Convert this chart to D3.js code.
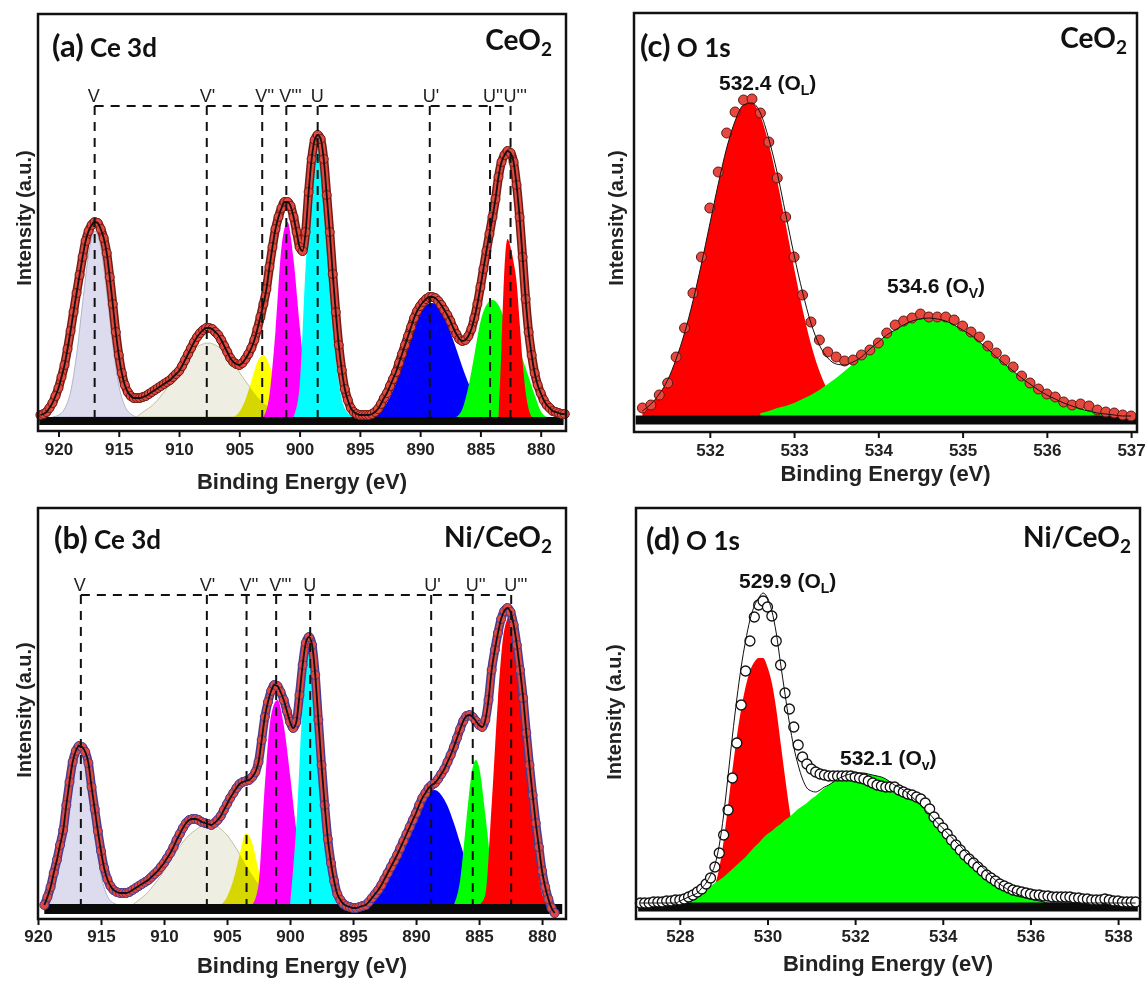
<!DOCTYPE html>
<html>
<head>
<meta charset="utf-8">
<script src="https://cdnjs.cloudflare.com/ajax/libs/d3/7.8.5/d3.min.js"></script>
<style>
  body { margin: 0; background: #fff; }
</style>
</head>
<body>
<script>
// ---------------- data ----------------
// Ce 3d peak names (shared by a and b)
var ceLabels = ["V", "V'", "V''", "V'''", "U", "U'", "U''", "U'''"];
var ceTicks = [920, 915, 910, 905, 900, 895, 890, 885, 880];

// (a) CeO2, Ce 3d : measured points every 0.25 eV starting at 921.5 eV
var ceA_start = 921.5;
var ceA_counts = [
  2, 3, 5, 9, 14, 21, 29, 40, 52, 68,
  86, 105, 124, 142, 160, 176, 186, 192, 195, 194,
  188, 179, 164, 140, 113, 85, 62, 44, 32, 25,
  21, 19, 19, 19, 20, 21, 23, 25, 27, 29,
  31, 33, 35, 37, 40, 43, 46, 51, 57, 63,
  69, 75, 80, 84, 87, 89, 89, 88, 85, 82,
  77, 71, 65, 59, 55, 53, 52, 54, 58, 63,
  69, 77, 88, 100, 113, 128, 150, 170, 188, 200,
  209, 215, 215, 211, 200, 185, 170, 166, 185, 225,
  258, 277, 282, 278, 258, 222, 185, 143, 105, 72,
  47, 28, 17, 9, 5, 3, 2, 2, 2, 2,
  3, 5, 8, 13, 19, 24, 31, 38, 45, 54,
  63, 72, 81, 90, 99, 106, 111, 115, 118, 120,
  120, 119, 116, 112, 107, 102, 96, 89, 83, 78,
  76, 77, 81, 88, 99, 113, 130, 148, 166, 183,
  200, 218, 240, 255, 262, 266, 264, 255, 232, 200,
  160, 118, 85, 62, 44, 32, 24, 17, 12, 9,
  6, 5, 4, 3, 3
];
var ceA_peakEnergy = [917.0, 907.7, 903.1, 901.1, 898.5, 889.2, 884.2, 882.5];
var ceA_V    = [[920.5,0],[920,2],[919.5,8],[919,25],[918.5,62],[918,114],[917.5,163],[917,186],[916.5,170],[916,125],[915.5,72],[915,32],[914.5,11],[914,3],[913.5,0]];
var ceA_V1   = [[913.5,0],[913,5],[912.5,9],[912,14],[911.5,21],[911,29],[910.5,38],[910,47],[909.5,56],[909,64],[908.5,70],[908,73],[907.5,74],[907,72],[906.5,68],[906,62],[905.5,54],[905,45],[904.5,36],[904,28],[903.5,20],[903,14],[902.5,9],[902,5],[901.5,3],[901,0]];
var ceA_V2   = [[905.5,0],[905,5],[904.5,17],[904,36],[903.5,55],[903,62],[902.5,52],[902,33],[901.5,15],[901,5],[900.5,0]];
var ceA_V3   = [[903,0],[902.5,22],[902,86],[901.5,170],[901,195],[900.5,157],[900,92],[899.5,37],[899,11],[898.5,0]];
var ceA_U    = [[900.5,0],[900,30],[899.5,150],[899,240],[898.5,276],[898,230],[897.5,140],[897,60],[896.5,18],[896,4],[895.5,0]];
var ceA_U1   = [[894,0],[893.5,4],[893,10],[892.5,20],[892,34],[891.5,51],[891,70],[890.5,88],[890,103],[889.5,112],[889,114],[888.5,110],[888,100],[887.5,85],[887,68],[886.5,50],[886,34],[885.5,21],[885,11],[884.5,5],[884,0]];
var ceA_U2   = [[887,0],[886.5,8],[886,30],[885.5,62],[885,95],[884.5,112],[884,117],[883.5,112],[883,98],[882.5,86],[882,75],[881.5,58],[881,40],[880.5,22],[880,6],[879.5,0]];
var ceA_U3   = [[883.5,0],[883.25,70],[883,150],[882.75,178],[882.5,170],[882.25,155],[882,135],[881.75,95],[881.5,55],[881.25,25],[881,8],[880.75,0]];

// (b) Ni/CeO2, Ce 3d : measured points every 0.25 eV starting at 919.5 eV
var ceB_start = 919.5;
var ceB_counts = [
  0, 8, 18, 32, 45, 60, 75, 100, 123, 143,
  154, 159, 158, 153, 142, 118, 96, 74, 54, 37,
  26, 19, 15, 13, 12, 12, 12, 13, 15, 17,
  19, 21, 23, 25, 28, 31, 34, 38, 42, 47,
  52, 58, 65, 71, 77, 82, 85, 86, 86, 85,
  83, 82, 81, 80, 82, 85, 89, 95, 101, 107,
  112, 117, 121, 123, 124, 125, 128, 133, 143, 165,
  188, 203, 214, 220, 219, 213, 205, 194, 183, 177,
  183, 210, 240, 262, 268, 260, 230, 185, 140, 100,
  66, 42, 24, 11, 5, 1, -1, -2, -3, -3,
  -2, -1, 0, 3, 7, 11, 15, 20, 26, 32,
  38, 44, 50, 57, 64, 71, 78, 85, 92, 100,
  107, 112, 117, 120, 122, 126, 131, 136, 143, 150,
  158, 167, 176, 184, 189, 190, 188, 184, 180, 178,
  185, 205, 235, 255, 272, 286, 294, 297, 293, 280,
  260, 235, 207, 172, 140, 110, 82, 58, 34, 18,
  6, -3, -8
];
var ceB_peakEnergy = [916.6, 906.6, 903.45, 901.1, 898.4, 888.8, 885.5, 882.45];
var ceB_V    = [[919.5,0],[919,8],[918.5,30],[918,75],[917.5,125],[917,150],[916.5,152],[916,118],[915.5,70],[915,30],[914.5,9],[914,2],[913.5,0]];
var ceB_V1   = [[912.5,0],[912,5],[911.5,10],[911,17],[910.5,25],[910,34],[909.5,44],[909,54],[908.5,63],[908,70],[907.5,75],[907,79],[906.5,80],[906,80],[905.5,76],[905,70],[904.5,61],[904,51],[903.5,40],[903,30],[902.5,21],[902,13],[901.5,7],[901,3],[900.5,0]];
var ceB_V2   = [[905.5,0],[905,8],[904.5,25],[904,50],[903.5,72],[903,62],[902.5,35],[902,14],[901.5,4],[901,0]];
var ceB_V3   = [[903,0],[902.5,20],[902,120],[901.5,190],[901,205],[900.5,180],[900,130],[899.5,75],[899,35],[898.5,10],[898,0]];
var ceB_U    = [[900,0],[899.5,80],[899,200],[898.5,262],[898,225],[897.5,140],[897,65],[896.5,20],[896,4],[895.5,0]];
var ceB_U1   = [[894,0],[893.5,5],[893,12],[892.5,22],[892,35],[891.5,50],[891,66],[890.5,82],[890,96],[889.5,107],[889,114],[888.5,115],[888,110],[887.5,99],[887,82],[886.5,62],[886,42],[885.5,25],[885,13],[884.5,5],[884,0]];
var ceB_U2   = [[887,0],[886.5,25],[886,85],[885.5,138],[885.25,145],[885,138],[884.5,90],[884,35],[883.5,8],[883,0]];
var ceB_U3   = [[885,0],[884.5,10],[884,100],[883.5,205],[883,275],[882.5,290],[882,255],[881.5,195],[881,120],[880.5,55],[880,12],[879.5,0]];

// (c) CeO2, O 1s : points every 0.1 eV from 531.2 eV
var oC_start = 531.2;
var oC_counts = [
  8, 11, 21, 33, 59, 88, 123, 159, 208, 244,
  283, 304, 316, 317, 303, 274, 238, 199, 159, 121,
  94, 76, 64, 59, 55, 56, 61, 66, 73, 83,
  91, 95, 98, 102, 99, 99, 99, 96, 90, 84,
  79, 70, 63, 56, 49, 40, 33, 27, 22, 19,
  14, 11, 12, 10, 6, 4, 3, 1, 0
];
var oC_OL_start = 531.2;
var oC_OL = [5, 12, 22, 36, 57, 83, 115, 152, 192, 232, 268, 295, 311, 313, 300, 272, 235, 192, 148, 107, 72, 45, 26, 14, 6, 2, 0];
var oC_OV_start = 532.6;
var oC_OV = [3, 5, 8, 10, 13, 17, 21, 26, 32, 38, 45, 52, 59, 67, 74, 81, 86, 91, 95, 97, 98, 97, 95, 91, 86, 81, 74, 67, 59, 52, 45, 38, 32, 26, 21, 17, 13, 10, 7, 5, 3, 2, 1];
var oC_ticks = [532, 533, 534, 535, 536, 537];

// (d) Ni/CeO2, O 1s : points every 0.1 eV from 527.1 eV
var oD_start = 527.1;
var oD_counts = [
  0, 0, 0, 1, 1, 1, 2, 2, 3, 3,
  4, 6, 8, 11, 14, 19, 25, 36, 50, 68,
  93, 125, 160, 198, 232, 262, 286, 298, 302, 296,
  287, 262, 238, 210, 194, 176, 158, 146, 139, 134,
  131, 129, 128, 127, 127, 127, 127, 127, 127, 126,
  125, 124, 122, 120, 118, 117, 116, 116, 116, 113,
  111, 109, 108, 106, 104, 100, 94, 86, 80, 75,
  69, 63, 58, 53, 48, 44, 40, 36, 32, 28,
  25, 22, 19, 17, 15, 13, 12, 11, 10, 9,
  8, 8, 7, 7, 6, 6, 6, 6, 6, 5,
  5, 4, 4, 3, 3, 3, 4, 3, 2, 2,
  1, 1, 1, 1
];
var oD_OL_start = 528.5;
var oD_OL = [3, 6, 11, 18, 35, 62, 97, 133, 166, 194, 216, 232, 241, 245, 245, 236, 220, 194, 160, 126, 94, 66, 44, 27, 15, 8, 4, 2, 1];
var oD_OV_start = 527.9;
var oD_OV = [
  0, 2, 4, 6, 8, 10, 12, 14, 17, 20,
  23, 26, 30, 34, 38, 42, 46, 51, 56, 60,
  65, 69, 72, 76, 79, 83, 86, 90, 94, 97,
  100, 104, 107, 111, 115, 118, 121, 124, 126, 128,
  129, 130, 130, 130, 129, 128, 127, 126, 124, 121,
  118, 116, 113, 110, 106, 102, 98, 93, 89, 84,
  79, 75, 70, 66, 61, 57, 52, 48, 44, 40,
  36, 32, 27, 23, 19, 16, 13, 11, 9, 7,
  5, 4, 3, 2, 1, 0
];
var oD_ticks = [528, 530, 532, 534, 536, 538];

// ---------------- helpers ----------------
var AX_FONT = "'Liberation Sans', Arial, sans-serif";
var TITLE_FONT = "Lato, 'Open Sans', sans-serif";

var svg = d3.select("body").append("svg")
  .attr("width", 1146)
  .attr("height", 987);
var defs = svg.append("defs");

// turn a start energy + list of values into [energy, value] pairs
function toPairs(start, step, vals) {
  return vals.map(function(v, i) { return [+(start + i * step).toFixed(2), v]; });
}

// value of a component at a given energy (0 outside its range)
function compAt(c, e) {
  var i = Math.round((e - c.start) / 0.1);
  return (i >= 0 && i < c.vals.length) ? c.vals[i] : 0;
}

function drawPanel(cfg) {
  var g = svg.append("g");
  var box = cfg.box;

  var x = d3.scaleLinear().domain(cfg.xDomain).range([box.left, box.right]);
  var y = d3.scaleLinear().domain([0, cfg.base - box.top]).range([cfg.base, box.top]);

  var area = d3.area()
    .x(function(d) { return x(d[0]); })
    .y0(y(0))
    .y1(function(d) { return y(d[1]); })
    .curve(d3.curveMonotoneX);

  var line = d3.line()
    .x(function(d) { return x(d[0]); })
    .y(function(d) { return y(d[1]); })
    .curve(d3.curveMonotoneX);

  function sorted(pts) {
    return pts.slice().sort(function(a, b) { return x(a[0]) - x(b[0]); });
  }

  // fitted components
  cfg.comps.forEach(function(c) {
    g.append("path")
      .datum(sorted(c.pts))
      .attr("d", area)
      .attr("fill", c.color)
      .attr("stroke", c.stroke || "none")
      .attr("stroke-width", 0.8);

    // darker tint where the broad satellite lies over the yellow peak
    if (c.shadeWith) {
      var id = cfg.id + "-clip";
      defs.append("clipPath").attr("id", id)
        .append("path").datum(sorted(c.pts)).attr("d", area);
      g.append("path")
        .datum(sorted(c.shadeWith))
        .attr("d", area)
        .attr("fill", "#d6d6c4")
        .attr("clip-path", "url(#" + id + ")")
        .style("mix-blend-mode", "multiply");
    }
  });

  // thick black background line
  g.append("line")
    .attr("x1", x(cfg.band[0]))
    .attr("x2", x(cfg.band[1]))
    .attr("y1", cfg.bandY)
    .attr("y2", cfg.bandY)
    .attr("stroke", "#0a0a0a")
    .attr("stroke-width", cfg.bandW);

  // measured points
  if (cfg.underlay) {
    g.append("path").datum(cfg.points)
      .attr("d", line)
      .attr("fill", "none")
      .attr("stroke", cfg.markStroke)
      .attr("stroke-width", 9);
    g.append("path").datum(cfg.points)
      .attr("d", line)
      .attr("fill", "none")
      .attr("stroke", cfg.markFill)
      .attr("stroke-width", 6);
  }
  g.append("g").selectAll("circle")
    .data(cfg.points)
    .enter()
    .append("circle")
    .attr("cx", function(d) { return x(d[0]); })
    .attr("cy", function(d) { return y(d[1]); })
    .attr("r", cfg.markR)
    .attr("fill", cfg.markFill)
    .attr("stroke", cfg.markStroke)
    .attr("stroke-width", cfg.markSW);

  // fit envelope
  g.append("path").datum(cfg.fit)
    .attr("d", line)
    .attr("fill", "none")
    .attr("stroke", "#111")
    .attr("stroke-width", cfg.fitW);

  // peak position guides (Ce 3d)
  if (cfg.peaks) {
    var lvl = y(cfg.peakLevel);
    var dash = "9,7";
    g.append("line")
      .attr("x1", x(cfg.peaks[0])).attr("x2", x(cfg.peaks[cfg.peaks.length - 1]))
      .attr("y1", lvl).attr("y2", lvl)
      .attr("stroke", "#111").attr("stroke-width", 2)
      .attr("stroke-dasharray", dash);
    g.append("g").selectAll("line")
      .data(cfg.peaks)
      .enter()
      .append("line")
      .attr("x1", function(d) { return x(d); })
      .attr("x2", function(d) { return x(d); })
      .attr("y1", lvl)
      .attr("y2", y(0))
      .attr("stroke", "#111").attr("stroke-width", 2)
      .attr("stroke-dasharray", dash);
    g.append("g").selectAll("text")
      .data(cfg.peaks)
      .enter()
      .append("text")
      .attr("x", function(d) { return x(d) - 7; })
      .attr("y", lvl - 4)
      .attr("font-family", AX_FONT)
      .attr("font-size", 18)
      .attr("fill", "#222")
      .text(function(d, i) { return ceLabels[i]; });
  }

  // O 1s peak annotations
  if (cfg.notes) {
    cfg.notes.forEach(function(n) {
      var t = g.append("text")
        .attr("x", n.x).attr("y", n.y)
        .attr("font-family", AX_FONT)
        .attr("font-weight", "bold")
        .attr("font-size", 21)
        .attr("fill", "#111");
      t.append("tspan").text(n.value + " (O");
      t.append("tspan").attr("font-size", 14).attr("dy", 5).text(n.sub);
      t.append("tspan").attr("dy", -5).text(")");
    });
  }

  // x axis
  var ax = g.append("g")
    .attr("transform", "translate(0," + box.bottom + ")")
    .call(d3.axisBottom(x).tickValues(cfg.ticks).tickSize(6).tickPadding(cfg.tickPad).tickFormat(d3.format("d")));
  ax.select(".domain").remove();
  ax.selectAll(".tick line").attr("stroke", "#111").attr("stroke-width", 2);
  ax.selectAll(".tick text")
    .attr("font-family", AX_FONT)
    .attr("font-weight", "bold")
    .attr("font-size", 17)
    .attr("fill", "#222");

  g.append("text")
    .attr("x", (box.left + box.right) / 2)
    .attr("y", cfg.xLabelY)
    .attr("text-anchor", "middle")
    .attr("font-family", AX_FONT)
    .attr("font-weight", "bold")
    .attr("font-size", 22)
    .attr("fill", "#222")
    .text("Binding Energy (eV)");

  g.append("text")
    .attr("transform", "translate(" + cfg.yLabelX + "," + cfg.yLabelY + ") rotate(-90)")
    .attr("text-anchor", "middle")
    .attr("font-family", AX_FONT)
    .attr("font-weight", "bold")
    .attr("font-size", 20)
    .attr("fill", "#222")
    .text("Intensity (a.u.)");

  // panel tag + title
  var t = g.append("text")
    .attr("x", cfg.titleX).attr("y", cfg.titleY)
    .attr("font-family", TITLE_FONT)
    .attr("font-weight", "bold")
    .attr("fill", "#111");
  t.append("tspan").attr("font-size", 31).text(cfg.tag);
  t.append("tspan").attr("font-size", 26).text(" " + cfg.title);

  var s = g.append("text")
    .attr("x", cfg.sampleX).attr("y", cfg.sampleY)
    .attr("text-anchor", "end")
    .attr("font-family", TITLE_FONT)
    .attr("font-weight", "bold")
    .attr("font-size", 28)
    .attr("fill", "#111");
  s.append("tspan").text(cfg.sample);
  s.append("tspan").attr("font-size", 19).attr("dy", 6).text("2");

  // frame
  g.append("rect")
    .attr("x", box.left).attr("y", box.top)
    .attr("width", box.right - box.left)
    .attr("height", box.bottom - box.top)
    .attr("fill", "none")
    .attr("stroke", "#111")
    .attr("stroke-width", 2.5);
}

// draw order: each lower-energy peak lies over the previous one
function ceComps(V, V1, V2, V3, U, U1, U2, U3) {
  return [
    { pts: V,  color: "#dcdcee", stroke: "#a4a4c4" },
    { pts: V1, color: "#eeeee2", stroke: "#b4b08c" },
    { pts: V2, color: "#ffff00", shadeWith: V1 },
    { pts: V3, color: "#ff00ff" },
    { pts: U,  color: "#00ffff" },
    { pts: U1, color: "#0000ff" },
    { pts: U2, color: "#00ff00" },
    { pts: U3, color: "#ff0000" }
  ];
}

function oPanelData(start, counts, comps) {
  var pts = toPairs(start, 0.1, counts);
  var fit = pts.map(function(p) {
    return [p[0], d3.sum(comps, function(c) { return compAt(c, p[0]); })];
  });
  return { points: pts, fit: fit };
}

// ---------------- panel (a) ----------------
var ptsA = toPairs(ceA_start, -0.25, ceA_counts);
drawPanel({
  id: "pa",
  box: { left: 38, right: 566, top: 14, bottom: 431 },
  xDomain: [921.7, 877.9], base: 417, band: [921.6, 878.1], bandY: 421, bandW: 8,
  comps: ceComps(ceA_V, ceA_V1, ceA_V2, ceA_V3, ceA_U, ceA_U1, ceA_U2, ceA_U3),
  points: ptsA, fit: ptsA, underlay: true,
  markR: 4.5, markFill: "#e4473d", markStroke: "#6e1c15", markSW: 1, fitW: 1.8,
  peaks: ceA_peakEnergy, peakLevel: 311,
  ticks: ceTicks, tickPad: 6, xLabelY: 489,
  yLabelX: 31, yLabelY: 218,
  tag: "(a)", title: "Ce 3d", titleX: 52, titleY: 57,
  sample: "CeO", sampleX: 552, sampleY: 50
});

// ---------------- panel (b) ----------------
var ptsB = toPairs(ceB_start, -0.25, ceB_counts);
drawPanel({
  id: "pb",
  box: { left: 38, right: 566, top: 508, bottom: 919 },
  xDomain: [920, 878.1], base: 905, band: [919.5, 878.4], bandY: 909, bandW: 10,
  comps: ceComps(ceB_V, ceB_V1, ceB_V2, ceB_V3, ceB_U, ceB_U1, ceB_U2, ceB_U3),
  points: ptsB, fit: ptsB, underlay: true,
  markR: 4.5, markFill: "#e4473d", markStroke: "#4a3c8e", markSW: 1, fitW: 1.8,
  peaks: ceB_peakEnergy, peakLevel: 310,
  ticks: ceTicks, tickPad: 5, xLabelY: 973,
  yLabelX: 31, yLabelY: 710,
  tag: "(b)", title: "Ce 3d", titleX: 54, titleY: 549,
  sample: "Ni/CeO", sampleX: 552, sampleY: 547
});

// ---------------- panel (c) ----------------
var dataC = oPanelData(oC_start, oC_counts, [
  { start: oC_OL_start, vals: oC_OL },
  { start: oC_OV_start, vals: oC_OV }
]);
drawPanel({
  id: "pc",
  box: { left: 634, right: 1137, top: 13, bottom: 432 },
  xDomain: [531.1, 537.07], base: 416, band: [531.12, 537.06], bandY: 420, bandW: 9,
  comps: [
    { pts: toPairs(oC_OL_start, 0.1, oC_OL), color: "#ff0000" },
    { pts: toPairs(oC_OV_start, 0.1, oC_OV), color: "#00ff00" }
  ],
  points: dataC.points, fit: dataC.fit, underlay: false,
  markR: 5, markFill: "#e8473e", markStroke: "#5a1a16", markSW: 1, fitW: 1,
  notes: [
    { value: "532.4", sub: "L", x: 719, y: 90 },
    { value: "534.6", sub: "V", x: 887, y: 293 }
  ],
  ticks: oC_ticks, tickPad: 6, xLabelY: 481,
  yLabelX: 623, yLabelY: 218,
  tag: "(c)", title: "O 1s", titleX: 640, titleY: 57,
  sample: "CeO", sampleX: 1127, sampleY: 48
});

// ---------------- panel (d) ----------------
var dataD = oPanelData(oD_start, oD_counts, [
  { start: oD_OL_start, vals: oD_OL },
  { start: oD_OV_start, vals: oD_OV }
]);
drawPanel({
  id: "pd",
  box: { left: 636, right: 1140, top: 508, bottom: 919 },
  xDomain: [527.0, 538.5], base: 903, band: [527.05, 538.45], bandY: 907, bandW: 9,
  comps: [
    { pts: toPairs(oD_OL_start, 0.1, oD_OL), color: "#ff0000" },
    { pts: toPairs(oD_OV_start, 0.1, oD_OV), color: "#00ff00" }
  ],
  points: dataD.points, fit: dataD.fit, underlay: false,
  markR: 5, markFill: "#ffffff", markStroke: "#111", markSW: 1.3, fitW: 1,
  notes: [
    { value: "529.9", sub: "L", x: 739, y: 588 },
    { value: "532.1", sub: "v", x: 840, y: 765 }
  ],
  ticks: oD_ticks, tickPad: 5, xLabelY: 971,
  yLabelX: 621, yLabelY: 712,
  tag: "(d)", title: "O 1s", titleX: 646, titleY: 550,
  sample: "Ni/CeO", sampleX: 1131, sampleY: 547
});
</script>
</body>
</html>
